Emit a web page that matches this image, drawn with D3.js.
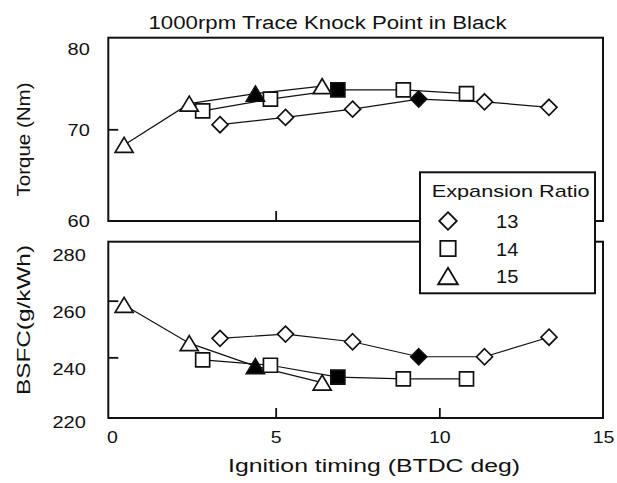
<!DOCTYPE html>
<html>
<head>
<meta charset="utf-8">
<script src="https://cdn.jsdelivr.net/npm/d3@7"></script>
<style>
  body { margin: 0; background: #fff; }
  svg { display: block; }
  text { font-family: "Liberation Sans", Arial, Helvetica, sans-serif; fill: #111; }
</style>
</head>
<body>
<svg id="chart" width="617" height="483"></svg>
<script>
// Expansion-ratio sweep at 1000 rpm: ignition timing vs torque and BSFC
const ratioLabels = ["13", "14", "15"];

const ignition13 = [3.3, 5.3, 7.35, 9.37, 11.38, 13.35];
const torque13   = [70.5, 71.3, 72.2, 73.3, 73.0, 72.4];
const bsfc13     = [246.7, 248.2, 245.5, 240.2, 240.2, 247.1];

const ignition14 = [2.77, 4.84, 6.9, 8.9, 10.83];
const torque14   = [72.0, 73.3, 74.3, 74.3, 73.9];
const bsfc14     = [239.1, 237.2, 233.0, 232.4, 232.4];

const ignition15 = [0.37, 2.36, 4.38, 6.42];
const torque15   = [68.3, 72.8, 73.9, 74.7];
const bsfc15     = [258.5, 245.0, 236.9, 231.1];

// index of the trace-knock point in each series (drawn filled)
const knockIndex = [3, 2, 2];

const timingTicks = [0, 5, 10, 15];
const torqueTicks = [60, 70, 80];
const bsfcTicks   = [220, 240, 260, 280];

const shapes = ["diamond", "square", "triangle"];
const series = ratioLabels.map((name, i) => ({
  name,
  shape: shapes[i],
  x: [ignition13, ignition14, ignition15][i],
  torque: [torque13, torque14, torque15][i],
  bsfc: [bsfc13, bsfc14, bsfc15][i],
  knock: knockIndex[i]
}));

const svg = d3.select("#chart");

// panel geometry
const frameLeft = 108.3, frameRight = 603;
const topPanel = { top: 37.7, bottom: 221 };
const botPanel = { top: 241.7, bottom: 418 };

const x = d3.scaleLinear().domain([0, 15]).range([112, 603]);
const yTorque = d3.scaleLinear().domain([60, 80]).range([221, 37.6]);
const yBsfc = d3.scaleLinear().domain([220, 280]).range([414, 244]);

// stretch text along its writing direction
function stretch(sel, factor) {
  sel.each(function () {
    const len = this.getComputedTextLength();
    d3.select(this).attr("textLength", len * factor).attr("lengthAdjust", "spacingAndGlyphs");
  });
}
function fixLength(sel, len) {
  sel.attr("textLength", len).attr("lengthAdjust", "spacingAndGlyphs");
}

function markerPath(shape, s) {
  if (shape === "diamond") {
    const h = 8 * s;
    return `M0,${-h}L${h},0L0,${h}L${-h},0Z`;
  }
  if (shape === "square") {
    const h = 7 * s;
    return `M${-h},${-h}H${h}V${h}H${-h}Z`;
  }
  const w = 9 * s, h = 7.5 * s;
  return `M0,${-h}L${w},${h}L${-w},${h}Z`;
}

// tick marks at the ends of a domain fall on the frame; hide them
function hideEndTicks(axisG, scale) {
  const [a, b] = scale.domain();
  axisG.selectAll(".tick line").filter(d => d === a || d === b).remove();
}

function drawPanel(panel, yScale, key, ticks, labelShift, labelPad, showXLabels) {
  const g = svg.append("g");

  // inward tick marks on y axis
  const yAxis = d3.axisLeft(yScale).tickValues(ticks).tickSizeInner(-10).tickSizeOuter(0).tickPadding(labelPad);
  const ya = g.append("g").attr("transform", `translate(${frameLeft},0)`).call(yAxis);
  ya.select(".domain").remove();
  hideEndTicks(ya, yScale);
  ya.selectAll("line").attr("stroke", "#111").attr("stroke-width", 1.8);
  ya.selectAll("text")
    .attr("font-size", 16)
    .attr("font-family", null)
    .attr("dy", "0.36em")
    .attr("y", function (d) {
      const base = yScale(d) + labelShift;
      const clamped = Math.min(Math.max(base, panel.top + 11), panel.bottom + 4);
      return clamped - yScale(d);
    })
    .call(stretch, 1.25);

  // inward tick marks on x axis
  const xAxis = d3.axisBottom(x).tickValues(timingTicks).tickSizeInner(-10).tickSizeOuter(0).tickPadding(19);
  if (!showXLabels) xAxis.tickFormat("");
  const xa = g.append("g").attr("transform", `translate(0,${panel.bottom})`).call(xAxis);
  xa.select(".domain").remove();
  hideEndTicks(xa, x);
  xa.selectAll("line").attr("stroke", "#111").attr("stroke-width", 1.8);
  xa.selectAll("text").attr("font-size", 16).attr("font-family", null).attr("dy", "0.36em").call(stretch, 1.22);

  // frame
  g.append("rect")
    .attr("x", frameLeft).attr("y", panel.top)
    .attr("width", frameRight - frameLeft).attr("height", panel.bottom - panel.top)
    .attr("fill", "none").attr("stroke", "#111").attr("stroke-width", 2);

  const line = d3.line().x(d => x(d[0])).y(d => yScale(d[1]));

  series.forEach(s => {
    const pts = s.x.map((v, i) => [v, s[key][i]]);
    g.append("path")
      .datum(pts)
      .attr("d", line)
      .attr("fill", "none")
      .attr("stroke", "#111")
      .attr("stroke-width", 1.2);
  });

  series.forEach(s => {
    const pts = s.x.map((v, i) => ({ x: v, y: s[key][i], knock: i === s.knock }));
    g.selectAll(null)
      .data(pts)
      .join("path")
      .attr("transform", d => `translate(${x(d.x)},${yScale(d.y)})`)
      .attr("d", markerPath(s.shape, 1))
      .attr("fill", d => d.knock ? "#000" : "#fff")
      .attr("stroke", "#111")
      .attr("stroke-width", 1.7)
      .attr("stroke-linejoin", "miter");
  });
}

drawPanel(topPanel, yTorque, "torque", torqueTicks, 0, 18.5, false);
drawPanel(botPanel, yBsfc, "bsfc", bsfcTicks, 11, 22.5, true);

// titles
svg.append("text")
  .attr("x", 327.5).attr("y", 29.3)
  .attr("text-anchor", "middle")
  .attr("font-size", 18)
  .text("1000rpm Trace Knock Point in Black")
  .call(fixLength, 358);

svg.append("text")
  .attr("transform", "translate(30,139.5) rotate(-90)")
  .attr("text-anchor", "middle")
  .attr("font-size", 18)
  .text("Torque (Nm)")
  .call(fixLength, 114);

svg.append("text")
  .attr("transform", "translate(30,320) rotate(-90)")
  .attr("text-anchor", "middle")
  .attr("font-size", 18)
  .text("BSFC(g/kWh)")
  .call(fixLength, 150);

svg.append("text")
  .attr("x", 374).attr("y", 472)
  .attr("text-anchor", "middle")
  .attr("font-size", 18)
  .text("Ignition timing (BTDC deg)")
  .call(fixLength, 292);

// legend
const legend = svg.append("g");
legend.append("rect")
  .attr("x", 420).attr("y", 172.3)
  .attr("width", 175).attr("height", 121)
  .attr("fill", "#fff").attr("stroke", "#111").attr("stroke-width", 2);
legend.append("text")
  .attr("x", 431.7).attr("y", 197.3)
  .attr("font-size", 17)
  .text("Expansion Ratio")
  .call(fixLength, 158);

const rowY = d3.scalePoint().domain(ratioLabels).range([221, 276]);
series.forEach(s => {
  legend.append("path")
    .attr("transform", `translate(448,${rowY(s.name)})`)
    .attr("d", markerPath(s.shape, 1.1))
    .attr("fill", "#fff")
    .attr("stroke", "#111")
    .attr("stroke-width", 1.8);
  legend.append("text")
    .attr("x", 496).attr("y", rowY(s.name) + 7)
    .attr("font-size", 19)
    .text(s.name)
    .call(fixLength, 22.3);
});
</script>
</body>
</html>
